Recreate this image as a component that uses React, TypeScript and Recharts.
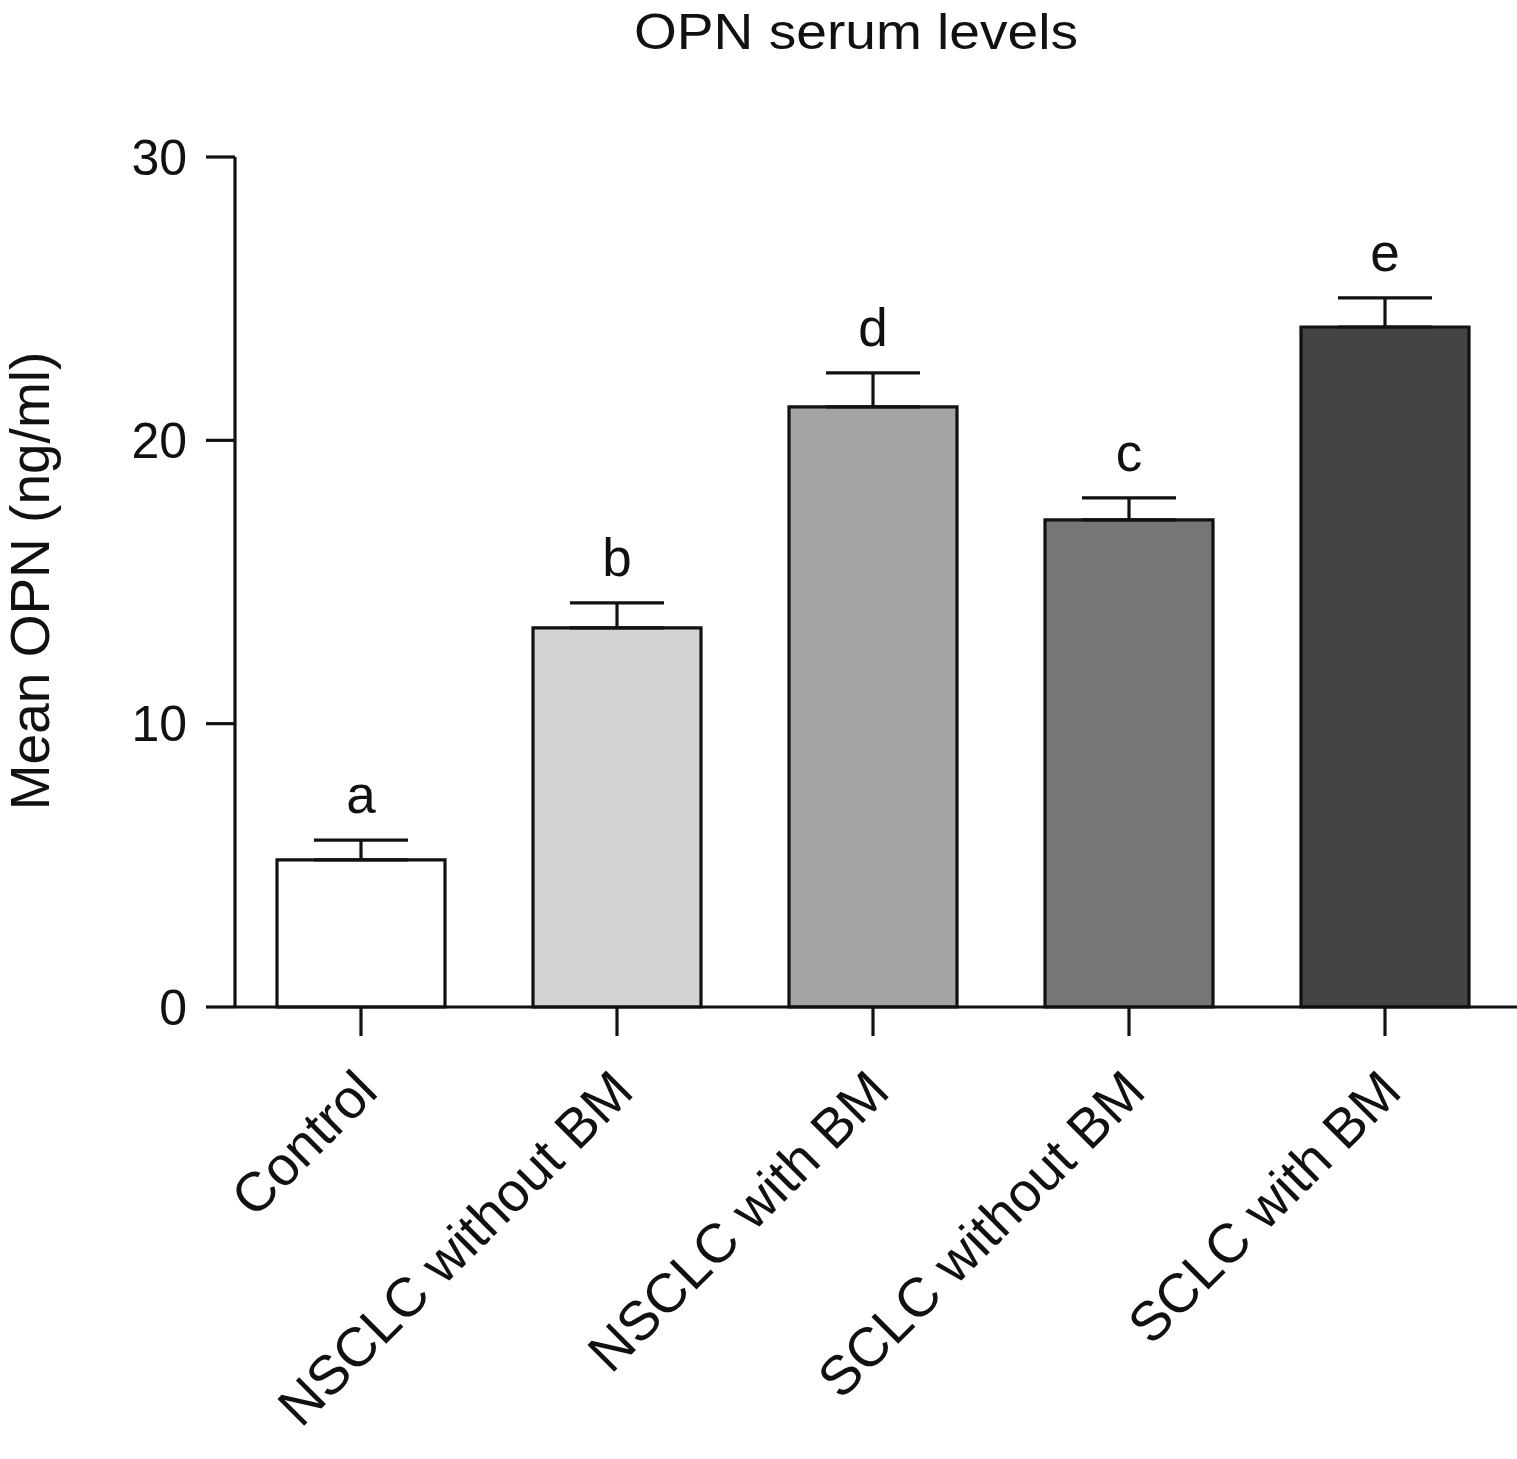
import React from 'react';
import { BarChart, Bar, XAxis, YAxis, Cell, ErrorBar, LabelList } from 'recharts';

const categories = ['Control', 'NSCLC without BM', 'NSCLC with BM', 'SCLC without BM', 'SCLC with BM'];
const means = [5.19, 13.38, 21.18, 17.19, 24.0];
const sems = [0.7, 0.88, 1.2, 0.78, 1.03];
const letters = ['a', 'b', 'd', 'c', 'e'];
const fills = ['#ffffff', '#d3d3d3', '#a4a4a4', '#767676', '#444444'];
const yTicks = [0, 10, 20, 30];

const FONT = '"Liberation Sans", Arial, Helvetica, sans-serif';

const data = categories.map((name, i) => ({ name, mean: means[i], err: sems[i], letter: letters[i] }));

const XTick = (props: any) => {
  const { x, y, payload } = props;
  const ax = x + 19;
  const ay = y + 56;
  return (
    <text
      x={ax}
      y={ay}
      textAnchor="end"
      fontSize={55}
      fontFamily={FONT}
      fill="#111"
      transform={`rotate(-45, ${ax}, ${ay})`}
    >
      {payload.value}
    </text>
  );
};

const YLabel = () => (
  <text
    x={49}
    y={581}
    textAnchor="middle"
    fontSize={55}
    fontFamily={FONT}
    fill="#111"
    transform="rotate(-90, 49, 581)"
  >
    Mean OPN (ng/ml)
  </text>
);

const LetterLabel = (props: any) => {
  const { x, y, width, height, index } = props;
  const v = means[index];
  const pxPerUnit = Math.abs(height) / v;
  const capY = y - sems[index] * pxPerUnit;
  return (
    <text
      x={x + width / 2}
      y={capY - 27}
      textAnchor="middle"
      fontSize={53}
      fontFamily={FONT}
      fill="#111"
    >
      {letters[index]}
    </text>
  );
};

export default function App() {
  return (
    <div style={{ position: 'absolute', left: 0, top: 0, width: 1517, height: 1459, background: '#fff' }}>
      <BarChart
        width={1517}
        height={1459}
        data={data}
        margin={{ top: 157, right: 0, bottom: 52, left: 135 }}
      >
        <XAxis
          dataKey="name"
          type="category"
          height={400}
          interval={0}
          padding={{ left: -2, right: 4 }}
          axisLine={{ stroke: '#111', strokeWidth: 3.2 }}
          tickLine={{ stroke: '#111', strokeWidth: 3.2 }}
          tickSize={29}
          tick={<XTick />}
        />
        <YAxis
          type="number"
          domain={[0, 30]}
          ticks={yTicks}
          width={100}
          axisLine={{ stroke: '#111', strokeWidth: 3.2 }}
          tickLine={{ stroke: '#111', strokeWidth: 3.2 }}
          tickSize={29}
          tickMargin={19}
          tick={{ fontSize: 50, fill: '#111', fontFamily: FONT }}
          label={<YLabel />}
        />
        <Bar dataKey="mean" barSize={168} stroke="#111" strokeWidth={3.2} isAnimationActive={false}>
          {data.map((d, i) => (
            <Cell key={d.name} fill={fills[i]} />
          ))}
          <ErrorBar
            dataKey={(d: any) => [0, d.err]}
            direction="y"
            width={47}
            stroke="#111"
            strokeWidth={3.2}
            isAnimationActive={false}
          />
          <LabelList dataKey="letter" content={<LetterLabel />} />
        </Bar>
      </BarChart>
      <svg
        width={1517}
        height={90}
        style={{ position: 'absolute', left: 0, top: 0, pointerEvents: 'none' }}
      >
        <text
          x={856}
          y={49}
          textAnchor="middle"
          fontSize={50}
          fontFamily={FONT}
          fill="#111"
          textLength={444}
          lengthAdjust="spacingAndGlyphs"
        >
          OPN serum levels
        </text>
      </svg>
    </div>
  );
}
